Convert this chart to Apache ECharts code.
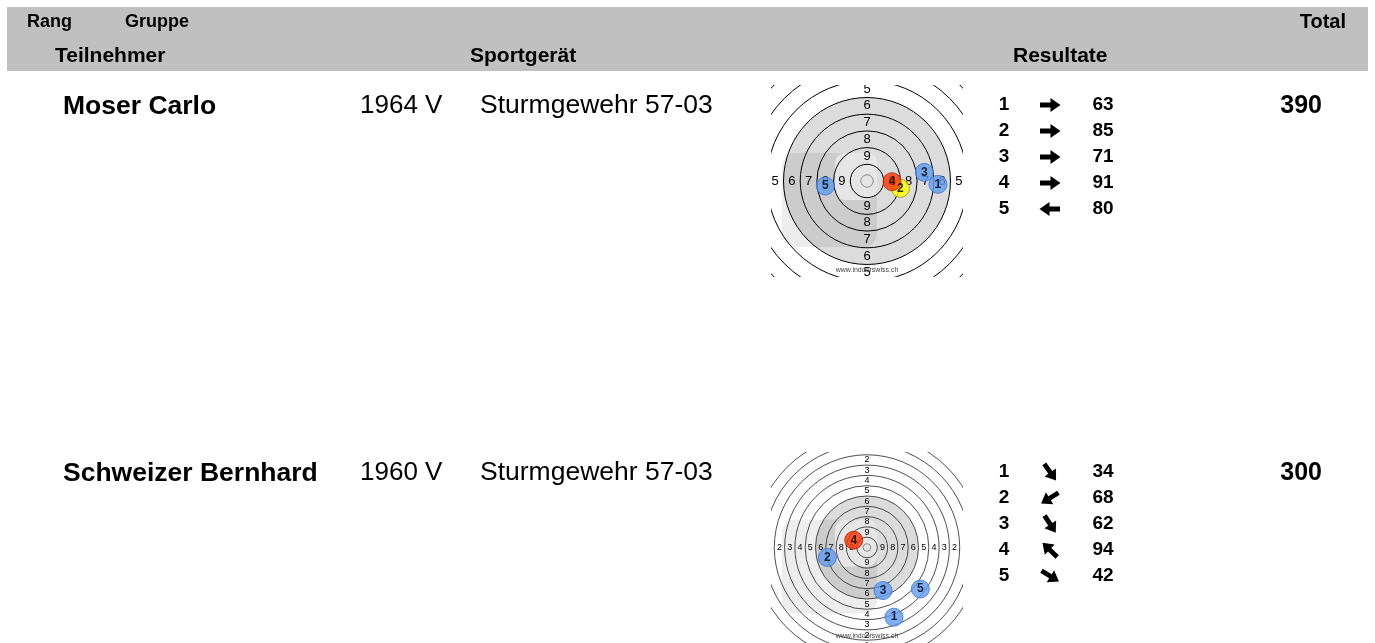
<!DOCTYPE html>
<html><head><meta charset="utf-8">
<script src="https://cdn.jsdelivr.net/npm/echarts@6/dist/echarts.min.js"></script>
<style>html,body{margin:0;padding:0;background:#fff}#c{width:1375px;height:643px}</style>
</head><body><div id="c"></div>
<script>
// ---- data ----
const headerTop = ['Rang', 'Gruppe', 'Total'];
const headerBottom = ['Teilnehmer', 'Sportgerät', 'Resultate'];
const names = ['Moser Carlo', 'Schweizer Bernhard'];
const years = ['1964 V', '1960 V'];
const devices = ['Sturmgewehr 57-03', 'Sturmgewehr 57-03'];
const totals = [390, 300];
const shotNumbers = [1, 2, 3, 4, 5];
const scores1 = [63, 85, 71, 91, 80];
const scores2 = [34, 68, 62, 94, 42];
const arrowDeg1 = [0, 0, 0, 0, 180];
const arrowDeg2 = [-55, -148, -57, 136, -32];
// shot positions in ring widths from the centre (x right, y up)
const shotX1 = [4.25, 2.0, 3.43, 1.5, -2.5];
const shotY1 = [-0.2, -0.44, 0.52, -0.04, -0.3];
const shotX2 = [2.62, -3.84, 1.55, -1.29, 5.18];
const shotY2 = [-6.8, -0.97, -4.2, 0.71, -4.05];
const shotKind1 = ['shot', 'second', 'shot', 'best', 'shot'];
const shotKind2 = ['shot', 'shot', 'shot', 'best', 'shot'];
const ringLabels1 = [5, 6, 7, 8, 9];
const ringLabels2 = [1, 2, 3, 4, 5, 6, 7, 8, 9];

// ---- styling / layout ----
const FONT = "'Liberation Sans', Arial, Helvetica, sans-serif";
const kindColor = { shot: '#5f9cf2', best: '#ff3300', second: '#ffff00' };
const kindStroke = { shot: '#3d72c8', best: '#b02400', second: '#a09a00' };
const rowTop = [0, 367];
const targets = [
  { half: 5.75, rings: 8, labels: ringLabels1, font: 13, lw: 1, stroke: '#000', xs: shotX1, ys: shotY1, kinds: shotKind1 },
  { half: 9.32, rings: 11, labels: ringLabels2, font: 9, lw: 0.8, stroke: '#222', xs: shotX2, ys: shotY2, kinds: shotKind2 }
];

function targetRenderer(spec) {
  return function (params, api) {
    const c = api.coord([0, 0]);
    const u = api.size([1, 1])[0];
    const ch = [];
    ch.push({ type: 'circle', shape: { cx: c[0], cy: c[1], r: 5 * u }, style: { fill: '#dcdcdc' } });
    // watermark logo
    ch.push({ type: 'rect', shape: { x: c[0] - 85, y: c[1] - 28, width: 95, height: 94, r: 13 }, style: { fill: 'rgba(0,0,0,0.07)' } });
    ch.push({ type: 'rect', shape: { x: c[0] - 32, y: c[1] - 28, width: 42, height: 47, r: 10 }, style: { fill: 'rgba(255,255,255,0.5)' } });
    for (let r = 1; r <= spec.rings; r++) {
      ch.push({ type: 'circle', shape: { cx: c[0], cy: c[1], r: r * u }, style: { fill: 'none', stroke: spec.stroke, lineWidth: spec.lw } });
    }
    ch.push({ type: 'circle', shape: { cx: c[0], cy: c[1], r: 0.37 * u }, style: { fill: 'none', stroke: '#8a8a8a', lineWidth: 1 } });
    spec.labels.forEach(function (n) {
      const d = (10.5 - n) * u;
      [[0, -d], [0, d], [-d, 0], [d, 0]].forEach(function (o) {
        ch.push({ type: 'text', style: { text: String(n), x: c[0] + o[0], y: c[1] + o[1], align: 'center', verticalAlign: 'middle', font: spec.font + 'px ' + FONT, fill: '#000' } });
      });
    });
    ch.push({ type: 'text', style: { text: 'www.indoorswiss.ch', x: c[0], y: c[1] + 89, align: 'center', verticalAlign: 'middle', font: '7px ' + FONT, fill: '#444' } });
    return { type: 'group', children: ch };
  };
}

const grids = [], xAxes = [], yAxes = [], series = [];
targets.forEach(function (t, i) {
  grids.push({ left: 771, top: 85 + rowTop[i], width: 192, height: 192 });
  xAxes.push({ gridIndex: i, type: 'value', min: -t.half, max: t.half, show: false });
  yAxes.push({ gridIndex: i, type: 'value', min: -t.half, max: t.half, show: false });
  series.push({
    type: 'custom', xAxisIndex: i, yAxisIndex: i, clip: true, silent: true, z: 1,
    data: [[0, 0]], renderItem: targetRenderer(t)
  });
  series.push({
    type: 'scatter', xAxisIndex: i, yAxisIndex: i, z: 3, symbolSize: 18, silent: true,
    data: shotNumbers.map(function (n, k) {
      return {
        value: [t.xs[k], t.ys[k], n],
        itemStyle: { color: kindColor[t.kinds[k]], borderColor: kindStroke[t.kinds[k]], borderWidth: 1 }
      };
    }),
    label: { show: true, position: 'inside', formatter: function (p) { return p.value[2]; }, color: '#000', fontWeight: 'bold', fontSize: 12, fontFamily: FONT }
  });
});

// text table
const g = [];
g.push({ type: 'rect', shape: { x: 7, y: 7, width: 1361, height: 64 }, style: { fill: '#c0c0c0' }, z: 0 });
function txt(s, x, y, size, bold, align) {
  g.push({ type: 'text', x: x, y: y, style: { text: s, font: (bold ? 'bold ' : '') + size + 'px ' + FONT, fill: '#000', align: align || 'left', verticalAlign: 'middle' }, z: 5 });
}
txt(headerTop[0], 27, 22, 18, true);
txt(headerTop[1], 125, 22, 18, true);
txt(headerTop[2], 1346, 22, 20, true, 'right');
txt(headerBottom[0], 55, 56, 21, true);
txt(headerBottom[1], 470, 56, 21, true);
txt(headerBottom[2], 1013, 56, 21, true);

const scoreSets = [scores1, scores2];
const arrowSets = [arrowDeg1, arrowDeg2];
names.forEach(function (nm, i) {
  const y0 = rowTop[i];
  txt(nm, 63, 107 + y0, 26.5, true);
  txt(years[i], 360, 106 + y0, 26, false);
  txt(devices[i], 480, 106 + y0, 26.5, false);
  txt(String(totals[i]), 1322, 106 + y0, 25, true, 'right');
  shotNumbers.forEach(function (n, k) {
    const y = 105 + y0 + 26 * k;
    txt(String(n), 1004, y, 19, true, 'center');
    txt(String(scoreSets[i][k]), 1103, y, 19, true, 'center');
    g.push({
      type: 'polygon', x: 1050, y: y, rotation: arrowSets[i][k] * Math.PI / 180, z: 5,
      shape: { points: [[-10, -2.4], [0.5, -2.4], [0.5, -7], [10.5, 0], [0.5, 7], [0.5, 2.4], [-10, 2.4]] },
      style: { fill: '#000' }
    });
  });
});

const chart = echarts.init(document.getElementById('c'), null, { renderer: 'canvas' });
chart.setOption({
  animation: false,
  backgroundColor: '#fff',
  grid: grids, xAxis: xAxes, yAxis: yAxes, series: series,
  graphic: g
});
</script></body></html>
